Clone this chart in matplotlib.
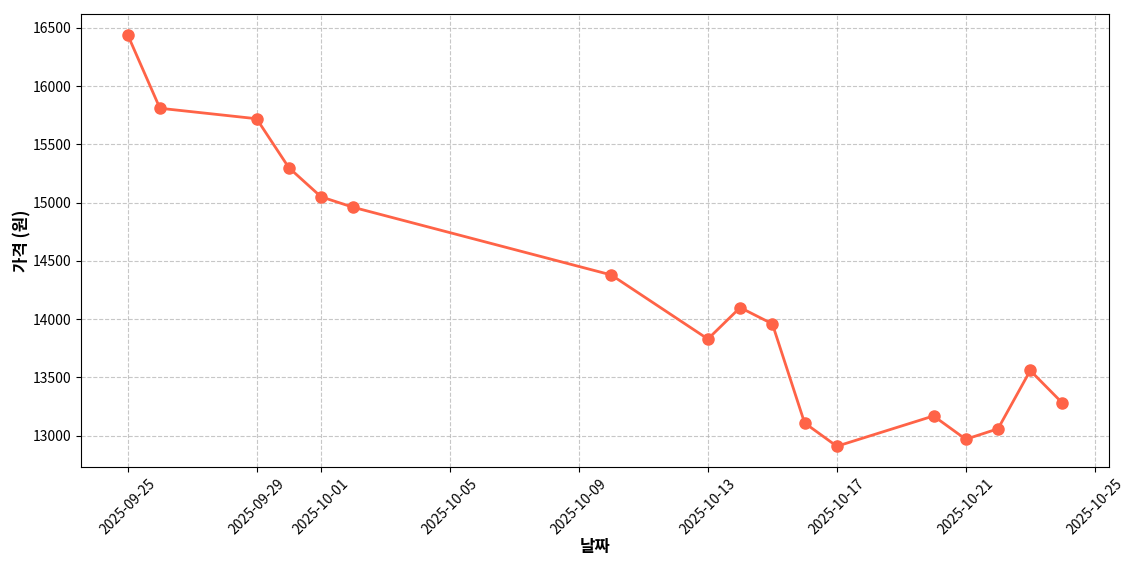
import matplotlib
matplotlib.use('Agg')
import matplotlib.pyplot as plt
import pandas as pd

plt.rcParams['font.family'] = ['Noto Sans CJK KR', 'DejaVu Sans']
plt.rcParams['axes.unicode_minus'] = False

dates = ["2025-09-25", "2025-09-26", "2025-09-29", "2025-09-30", "2025-10-01",
         "2025-10-02", "2025-10-10", "2025-10-13", "2025-10-14", "2025-10-15",
         "2025-10-16", "2025-10-17", "2025-10-20", "2025-10-21", "2025-10-22",
         "2025-10-23", "2025-10-24"]
prices = [16440, 15810, 15720, 15300, 15050,
          14960, 14380, 13830, 14100, 13960,
          13110, 12910, 13170, 12970, 13060,
          13560, 13280]

x = pd.to_datetime(dates)

fig, ax = plt.subplots(figsize=(11.4, 5.7), dpi=100)
ax.plot(x, prices, color='#FF6347', marker='o', linewidth=2, markersize=8)

ax.set_xlabel("날짜", fontsize=12, fontweight='bold', labelpad=1)
ax.set_ylabel("가격 (원)", fontsize=12, fontweight='bold', labelpad=1)
ax.grid(True, linestyle='--', alpha=0.7)
plt.xticks(rotation=45)

fig.subplots_adjust(left=0.071, right=0.973, top=0.975, bottom=0.181)
fig.savefig("out.png", dpi=100)
